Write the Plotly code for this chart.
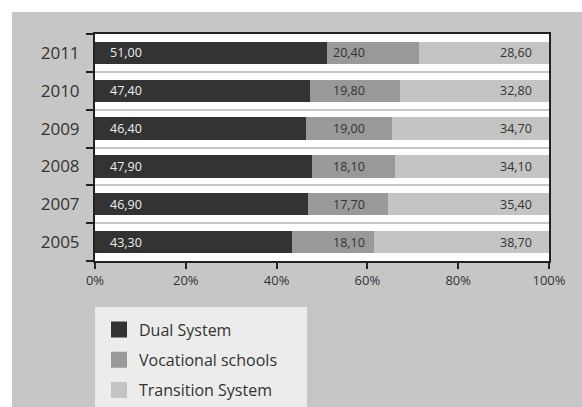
import plotly.graph_objects as go

# Share of new entrants by sector of the training system (%)
years = ["2005", "2007", "2008", "2009", "2010", "2011"]
dual_system = [43.30, 46.90, 47.90, 46.40, 47.40, 51.00]
vocational_schools = [18.10, 17.70, 18.10, 19.00, 19.80, 20.40]
transition_system = [38.70, 35.40, 34.10, 34.70, 32.80, 28.60]
x_ticks = [0, 20, 40, 60, 80, 100]
x_tick_labels = ["0%", "20%", "40%", "60%", "80%", "100%"]

series_names = ["Dual System", "Vocational schools", "Transition System"]
series_colors = ["#333333", "#999999", "#c4c4c4"]

W, H = 582, 407
L, R, T, B = 95, 33, 34, 146
PW, PH = W - L - R, H - T - B
FONT = "Open Sans"
TEXT = "#333333"


def px_x(px):
    return (px - L) / PW


def px_y(py):
    return (H - B - py) / PH


def fmt(v):
    return f"{v:.2f}".replace(".", ",")


fig = go.Figure()

for name, vals, col in zip(series_names,
                           [dual_system, vocational_schools, transition_system],
                           series_colors):
    fig.add_trace(go.Bar(
        x=vals, y=years, orientation="h", name=name,
        marker=dict(color=col, line=dict(width=0)),
        showlegend=False, legendgroup=name, hoverinfo="x+y+name",
    ))
    # legend entry with a larger square swatch, kept on hidden axes
    fig.add_trace(go.Scatter(
        x=[None], y=[None], mode="markers", name=name, legendgroup=name,
        xaxis="x2", yaxis="y2", hoverinfo="skip",
        marker=dict(symbol="square", size=16, color=col, line=dict(width=0)),
    ))

# value labels: category axis positions are given by row index
annotations = []
label_font = dict(family=FONT, size=12.5)
for i, (d, v, t) in enumerate(zip(dual_system, vocational_schools, transition_system)):
    annotations.append(dict(x=0, y=i, xref="x", yref="y", text=fmt(d),
                            xanchor="left", xshift=13, showarrow=False,
                            font=dict(label_font, color="#eeeeee")))
    annotations.append(dict(x=52, y=i, xref="x", yref="y", text=fmt(v),
                            xanchor="left", showarrow=False,
                            font=dict(label_font, color=TEXT)))
    annotations.append(dict(x=100, y=i, xref="x", yref="y", text=fmt(t),
                            xanchor="right", xshift=-15, showarrow=False,
                            font=dict(label_font, color=TEXT)))

shapes = [
    # white strip along the top edge
    dict(type="rect", xref="paper", yref="paper", layer="below",
         x0=px_x(0), x1=px_x(W), y0=px_y(12), y1=px_y(0),
         fillcolor="white", line=dict(width=0)),
    # white strip along the left edge
    dict(type="rect", xref="paper", yref="paper", layer="below",
         x0=px_x(0), x1=px_x(12), y0=px_y(H), y1=px_y(0),
         fillcolor="white", line=dict(width=0)),
    # legend panel
    dict(type="rect", xref="paper", yref="paper", layer="below",
         x0=px_x(95), x1=px_x(307), y0=px_y(H), y1=px_y(307),
         fillcolor="#ebeceb", line=dict(width=0)),
]

fig.update_layout(
    width=W, height=H,
    autosize=False,
    margin=dict(l=L, r=R, t=T, b=B, pad=0, autoexpand=False),
    paper_bgcolor="#c6c6c6",
    plot_bgcolor="white",
    barmode="stack",
    bargap=0.41,
    font=dict(family=FONT, color=TEXT),
    annotations=annotations,
    shapes=shapes,
    showlegend=True,
    legend=dict(
        x=px_x(99), y=px_y(407.5), xanchor="left", yanchor="bottom",
        bgcolor="rgba(0,0,0,0)", borderwidth=0,
        font=dict(family=FONT, size=16, color=TEXT),
        tracegroupgap=6.5,
    ),
    xaxis=dict(
        range=[0, 100], tickvals=x_ticks, ticktext=x_tick_labels,
        showgrid=False, zeroline=False, automargin=False,
        showline=True, linecolor="#222222", linewidth=2, mirror=True,
        ticks="outside", ticklen=6, tickwidth=1.5, tickcolor="#222222",
        tickfont=dict(family=FONT, size=13, color=TEXT),
        fixedrange=True,
    ),
    yaxis=dict(
        type="category", categoryorder="array", categoryarray=years,
        range=[-0.5, len(years) - 0.5], automargin=False,
        tickson="boundaries",
        showgrid=True, gridcolor="#c8c8c8", gridwidth=1.5,
        showline=True, linecolor="#222222", linewidth=2, mirror=True,
        ticks="outside", ticklen=7, tickwidth=1.5, tickcolor="#222222",
        tickfont=dict(family=FONT, size=17, color=TEXT),
        ticklabelstandoff=10,
        fixedrange=True,
    ),
    xaxis2=dict(overlaying="x", visible=False, fixedrange=True),
    yaxis2=dict(overlaying="y", visible=False, fixedrange=True),
)

fig.write_html("out.html")
